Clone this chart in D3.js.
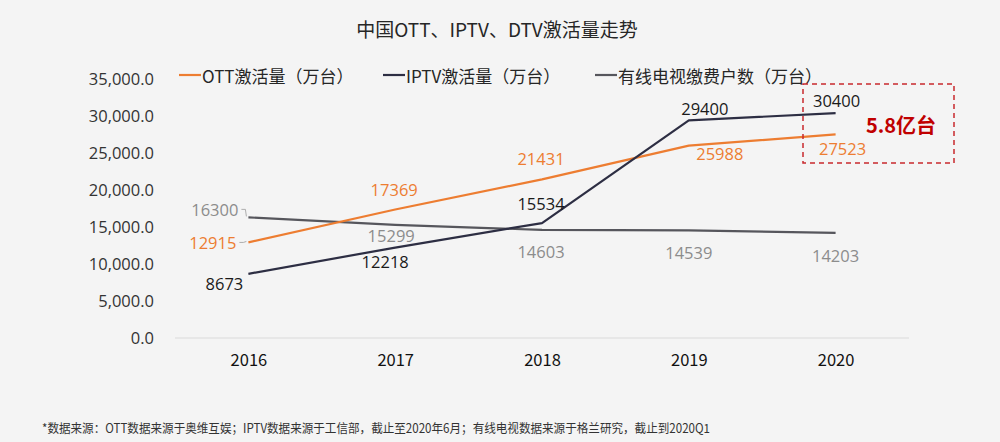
<!DOCTYPE html>
<html>
<head>
<meta charset="utf-8">
<script src="https://cdn.jsdelivr.net/npm/d3@7/dist/d3.min.js"></script>
<style>
  html, body { margin: 0; padding: 0; background: #f4f4f4; }
  svg { display: block; }
</style>
</head>
<body>
<svg id="chart" width="1000" height="442"></svg>
<script>
// ---- data ----
const years = ["2016", "2017", "2018", "2019", "2020"];
const ottValues = [12915, 17369, 21431, 25988, 27523];
const iptvValues = [8673, 12218, 15534, 29400, 30400];
const cableValues = [16300, 15299, 14603, 14539, 14203];
const yTicks = [0, 5000, 10000, 15000, 20000, 25000, 30000, 35000];
const seriesNames = ["OTT激活量（万台）", "IPTV激活量（万台）", "有线电视缴费户数（万台）"];
const titleText = "中国OTT、IPTV、DTV激活量走势";
const noteText = "*数据来源：OTT数据来源于奥维互娱；IPTV数据来源于工信部，截止至2020年6月；有线电视数据来源于格兰研究，截止到2020Q1";
const calloutText = "5.8亿台";

// ---- label placement (offsets from the point, px) ----
const ottLabelPos = [[-12, 0, "end"], [-1, -20, "middle"], [-1, -21, "middle"], [31, 8, "middle"], [7, 14, "middle"]];
const iptvLabelPos = [[-24, 10, "middle"], [-10, 14, "middle"], [-1, -20, "middle"], [16, -12, "middle"], [1, -13, "middle"]];
const cableLabelPos = [[-10, -8, "end"], [-4, 11, "middle"], [-1, 22, "middle"], [0, 22, "middle"], [0, 23, "middle"]];

const colors = { ott: "#ed7d31", iptv: "#2d2e43", cable: "#56565c" };
const labelColors = { ott: "#ed7d31", iptv: "#1a1a1a", cable: "#8c8c8c" };

const svg = d3.select("#chart");
const numFont = "'Open Sans', 'Noto Sans', sans-serif";
const cjkFont = "'Noto Sans CJK SC', 'Noto Sans', sans-serif";

const x = d3.scalePoint().domain(years).range([175, 909]).padding(0.5);
const y = d3.scaleLinear().domain([0, 35000]).range([338, 79]);

// title
svg.append("text")
  .attr("x", 497).attr("y", 28)
  .attr("text-anchor", "middle").attr("dominant-baseline", "central")
  .style("font-family", cjkFont).style("font-size", "19px")
  .attr("fill", "#262626")
  .text(titleText);

// y axis
const yAxis = d3.axisLeft(y).tickValues(yTicks).tickSize(0).tickPadding(0)
  .tickFormat(d3.format(",.1f"));
const gy = svg.append("g").attr("transform", "translate(154,0)").call(yAxis);
gy.select(".domain").remove();
gy.selectAll("text")
  .style("font-family", numFont).style("font-size", "16.5px")
  .attr("fill", "#333");

// x axis
const xAxis = d3.axisBottom(x).tickSize(0).tickPadding(16);
const gx = svg.append("g").attr("transform", "translate(0,338)").call(xAxis);
gx.select(".domain").attr("stroke", "#d9d9d9").attr("stroke-width", 1.2)
  .attr("d", "M175,0H909");
gx.selectAll("text")
  .style("font-family", cjkFont).style("font-size", "16.5px").style("font-weight", "400")
  .attr("fill", "#111");

// lines
const series = [
  { key: "cable", values: cableValues, pos: cableLabelPos },
  { key: "ott", values: ottValues, pos: ottLabelPos },
  { key: "iptv", values: iptvValues, pos: iptvLabelPos }
];
const line = d3.line().x((d, i) => x(years[i])).y(d => y(d));
series.forEach(s => {
  svg.append("path").datum(s.values)
    .attr("d", line).attr("fill", "none")
    .attr("stroke", colors[s.key]).attr("stroke-width", 2.2)
    .attr("stroke-linejoin", "round");
});

// leader lines for the 2016 labels that sit left of the points
function leader(values, pos, color) {
  const px = x(years[0]), py = y(values[0]);
  const sx = px + pos[0][0] + 3, sy = py + pos[0][1];
  svg.append("path")
    .attr("d", `M${sx},${sy}H${sx + 4}L${px - 2},${py - 1}`)
    .attr("fill", "none").attr("stroke", color).attr("stroke-width", 0.8);
}
leader(cableValues, cableLabelPos, "#9a9a9a");
leader(ottValues, ottLabelPos, "#9a9a9a");

// data labels
series.forEach(s => {
  svg.append("g").selectAll("text").data(s.values).join("text")
    .attr("x", (d, i) => x(years[i]) + s.pos[i][0])
    .attr("y", (d, i) => y(d) + s.pos[i][1])
    .attr("text-anchor", (d, i) => s.pos[i][2])
    .attr("dominant-baseline", "central")
    .style("font-family", numFont).style("font-size", "16.5px")
    .attr("fill", labelColors[s.key])
    .text(d => d);
});

// legend
const legendItems = [
  { x: 179, key: "ott", name: seriesNames[0] },
  { x: 383, key: "iptv", name: seriesNames[1] },
  { x: 595, key: "cable", name: seriesNames[2] }
];
const lg = svg.append("g").selectAll("g").data(legendItems).join("g")
  .attr("transform", d => `translate(${d.x},75)`);
lg.append("line").attr("x1", 0).attr("x2", 22).attr("y1", 0).attr("y2", 0)
  .attr("stroke", d => colors[d.key]).attr("stroke-width", 2.2);
lg.append("text").attr("x", 23).attr("y", 0).attr("dominant-baseline", "central")
  .style("font-family", cjkFont).style("font-size", "17px")
  .attr("fill", "#262626")
  .text(d => d.name);

// callout box
svg.append("rect")
  .attr("x", 803).attr("y", 84).attr("width", 151).attr("height", 79)
  .attr("fill", "none").attr("stroke", "#c8282d").attr("stroke-width", 1.5)
  .attr("stroke-dasharray", "5,4");
svg.append("text")
  .attr("x", 901).attr("y", 124)
  .attr("text-anchor", "middle").attr("dominant-baseline", "central")
  .style("font-family", cjkFont).style("font-size", "20px").style("font-weight", "700")
  .attr("fill", "#c00000")
  .text(calloutText);

// footnote
svg.append("text")
  .attr("x", 42).attr("y", 427).attr("dominant-baseline", "central")
  .attr("textLength", 668).attr("lengthAdjust", "spacingAndGlyphs")
  .style("font-family", cjkFont).style("font-size", "12.5px")
  .attr("fill", "#333")
  .text(noteText);
</script>
</body>
</html>
